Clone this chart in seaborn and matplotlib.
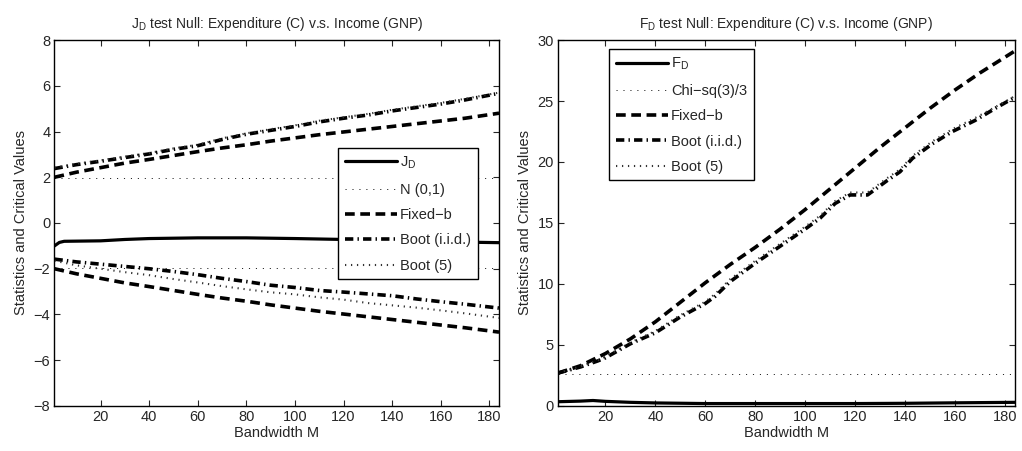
import numpy as np
import pandas as pd
import matplotlib
matplotlib.use("Agg")
import matplotlib.pyplot as plt
import seaborn as sns

# ---------------- J_D test (left panel) ----------------
m_jd = [1, 3, 5, 20, 30, 40, 60, 80, 100, 120, 140, 160, 184]
jd_stat = [-1.0, -0.85, -0.8, -0.78, -0.72, -0.68, -0.65, -0.65, -0.68, -0.72, -0.78, -0.82, -0.86]

m_cv = [1, 10, 20, 30, 40, 50, 60, 70, 80, 90, 100, 110, 120, 130, 140, 150, 160, 170, 184]
jd_normal = [1.96] * len(m_cv)
jd_fixedb_up = [2.0, 2.22, 2.42, 2.62, 2.78, 2.95, 3.12, 3.28, 3.42, 3.58, 3.72, 3.86, 3.98, 4.1, 4.22, 4.34, 4.46, 4.58, 4.8]
jd_fixedb_lo = [-2.0, -2.22, -2.42, -2.62, -2.78, -2.95, -3.12, -3.28, -3.42, -3.58, -3.72, -3.86, -3.98, -4.1, -4.22, -4.34, -4.46, -4.58, -4.77]
jd_iid_up = [2.38, 2.55, 2.7, 2.86, 3.02, 3.22, 3.38, 3.65, 3.88, 4.05, 4.22, 4.42, 4.58, 4.72, 4.9, 5.05, 5.2, 5.38, 5.67]
jd_iid_lo = [-1.58, -1.7, -1.8, -1.9, -2.0, -2.12, -2.26, -2.42, -2.56, -2.72, -2.82, -2.95, -3.02, -3.1, -3.18, -3.32, -3.44, -3.55, -3.72]
jd_b5_up = [2.42, 2.58, 2.74, 2.9, 3.06, 3.26, 3.42, 3.7, 3.92, 4.1, 4.27, 4.47, 4.62, 4.77, 4.95, 5.1, 5.25, 5.43, 5.7]
jd_b5_lo = [-1.65, -1.85, -2.0, -2.15, -2.28, -2.45, -2.6, -2.76, -2.9, -3.03, -3.12, -3.25, -3.35, -3.5, -3.6, -3.7, -3.82, -3.95, -4.15]

# ---------------- F_D test (right panel) ----------------
m_fd = [1, 10, 15, 20, 30, 40, 60, 80, 100, 120, 140, 160, 184]
fd_stat = [0.35, 0.4, 0.45, 0.38, 0.3, 0.25, 0.2, 0.2, 0.2, 0.2, 0.22, 0.26, 0.3]

fd_chisq = [2.605] * len(m_cv)
fd_fixedb = [2.7, 3.3, 4.3, 5.5, 6.9, 8.5, 10.1, 11.6, 13.0, 14.5, 16.1, 17.8, 19.5, 21.2, 22.8, 24.4, 25.9, 27.3, 29.1]

m_boot = [1, 10, 17, 20, 30, 40, 50, 60, 64, 70, 80, 90, 100, 106, 112, 118, 125, 133, 138, 143, 151, 159, 168, 177, 184]
fd_iid = [2.7, 3.2, 3.7, 3.95, 5.1, 6.0, 7.3, 8.4, 9.0, 10.2, 11.7, 13.1, 14.5, 15.4, 16.6, 17.3, 17.3, 18.5, 19.2, 20.3, 21.5, 22.5, 23.4, 24.5, 25.3]
fd_b5 = [2.7, 3.25, 3.75, 4.05, 5.2, 6.15, 7.45, 8.55, 9.2, 10.4, 11.9, 13.3, 14.7, 15.6, 16.8, 17.5, 17.5, 18.7, 19.4, 20.5, 21.7, 22.7, 23.6, 24.6, 25.4]

labels_jd = [r"J$_\mathregular{D}$", "N (0,1)", "Fixed\u2212b", "Boot (i.i.d.)", "Boot (5)"]
labels_fd = [r"F$_\mathregular{D}$", "Chi\u2212sq(3)/3", "Fixed\u2212b", "Boot (i.i.d.)", "Boot (5)"]

sns.set_style("ticks")
plt.rcParams["font.family"] = ["Liberation Sans", "DejaVu Sans"]
plt.rcParams["mathtext.fontset"] = "custom"
plt.rcParams["mathtext.rm"] = "Liberation Sans"
plt.rcParams["lines.scale_dashes"] = False

STYLES = {
    "stat": dict(color="black", lw=2.3, linestyle="-"),
    "asym": dict(color="black", lw=0.6, linestyle=(0, (0.8, 4.2))),
    "fixedb": dict(color="black", lw=2.6, linestyle=(0, (7, 4))),
    "iid": dict(color="black", lw=2.6, linestyle=(0, (6, 3, 1, 3))),
    "b5": dict(color="#333333", lw=1.5, linestyle=(0, (0.9, 3.4))),
}

fig = plt.figure(figsize=(10.22, 4.51), dpi=100)
ax1 = fig.add_axes([0.0533, 0.0998, 0.435, 0.8115])
ax2 = fig.add_axes([0.546, 0.0998, 0.447, 0.8115])


def draw(ax, x, y, key):
    sns.lineplot(x=x, y=y, ax=ax, legend=False, **STYLES[key])
    return ax.lines[-1]


LEG = dict(loc="upper left", borderaxespad=0, fontsize=10.5, handlelength=3.6,
           handletextpad=0.2, labelspacing=0.78, fancybox=False, framealpha=1,
           borderpad=0.45)

# left panel
h = [
    draw(ax1, m_jd, jd_stat, "stat"),
    draw(ax1, m_cv, jd_normal, "asym"),
    draw(ax1, m_cv, jd_fixedb_up, "fixedb"),
    draw(ax1, m_cv, jd_iid_up, "iid"),
    draw(ax1, m_cv, jd_b5_up, "b5"),
]
draw(ax1, m_cv, [-v for v in jd_normal], "asym")
draw(ax1, m_cv, jd_fixedb_lo, "fixedb")
draw(ax1, m_cv, jd_iid_lo, "iid")
draw(ax1, m_cv, jd_b5_lo, "b5")
ax1.set_ylim(-8, 8)
ax1.set_yticks(np.arange(-8, 9, 2))
ax1.set_title(r"J$_\mathregular{D}$ test Null: Expenditure (C) v.s. Income (GNP)", fontsize=10, pad=9)
leg1 = ax1.legend(h, labels_jd, bbox_to_anchor=(0.638, 0.705), **LEG)

# right panel
h2 = [
    draw(ax2, m_fd, fd_stat, "stat"),
    draw(ax2, m_cv, fd_chisq, "asym"),
    draw(ax2, m_cv, fd_fixedb, "fixedb"),
    draw(ax2, m_boot, fd_iid, "iid"),
    draw(ax2, m_boot, fd_b5, "b5"),
]
ax2.set_ylim(0, 30)
ax2.set_yticks(np.arange(0, 31, 5))
ax2.set_title(r"F$_\mathregular{D}$ test Null: Expenditure (C) v.s. Income (GNP)", fontsize=10, pad=9)
leg2 = ax2.legend(h2, labels_fd, bbox_to_anchor=(0.112, 0.975), **LEG)

for ax, leg in ((ax1, leg1), (ax2, leg2)):
    ax.set_xlim(1, 184)
    ax.set_xticks(np.arange(20, 181, 20))
    ax.set_xlabel("Bandwidth M", fontsize=10.5, labelpad=1)
    ax.set_ylabel("Statistics and Critical Values", fontsize=10.5, labelpad=4)
    ax.tick_params(direction="in", length=4, width=0.8, top=True, right=True,
                   labelsize=10.5, pad=3)
    for sp in ax.spines.values():
        sp.set_visible(True)
        sp.set_linewidth(1.0)
        sp.set_color("black")
    frame = leg.get_frame()
    frame.set_edgecolor("black")
    frame.set_linewidth(1.0)

fig.savefig("out.png", dpi=100)
